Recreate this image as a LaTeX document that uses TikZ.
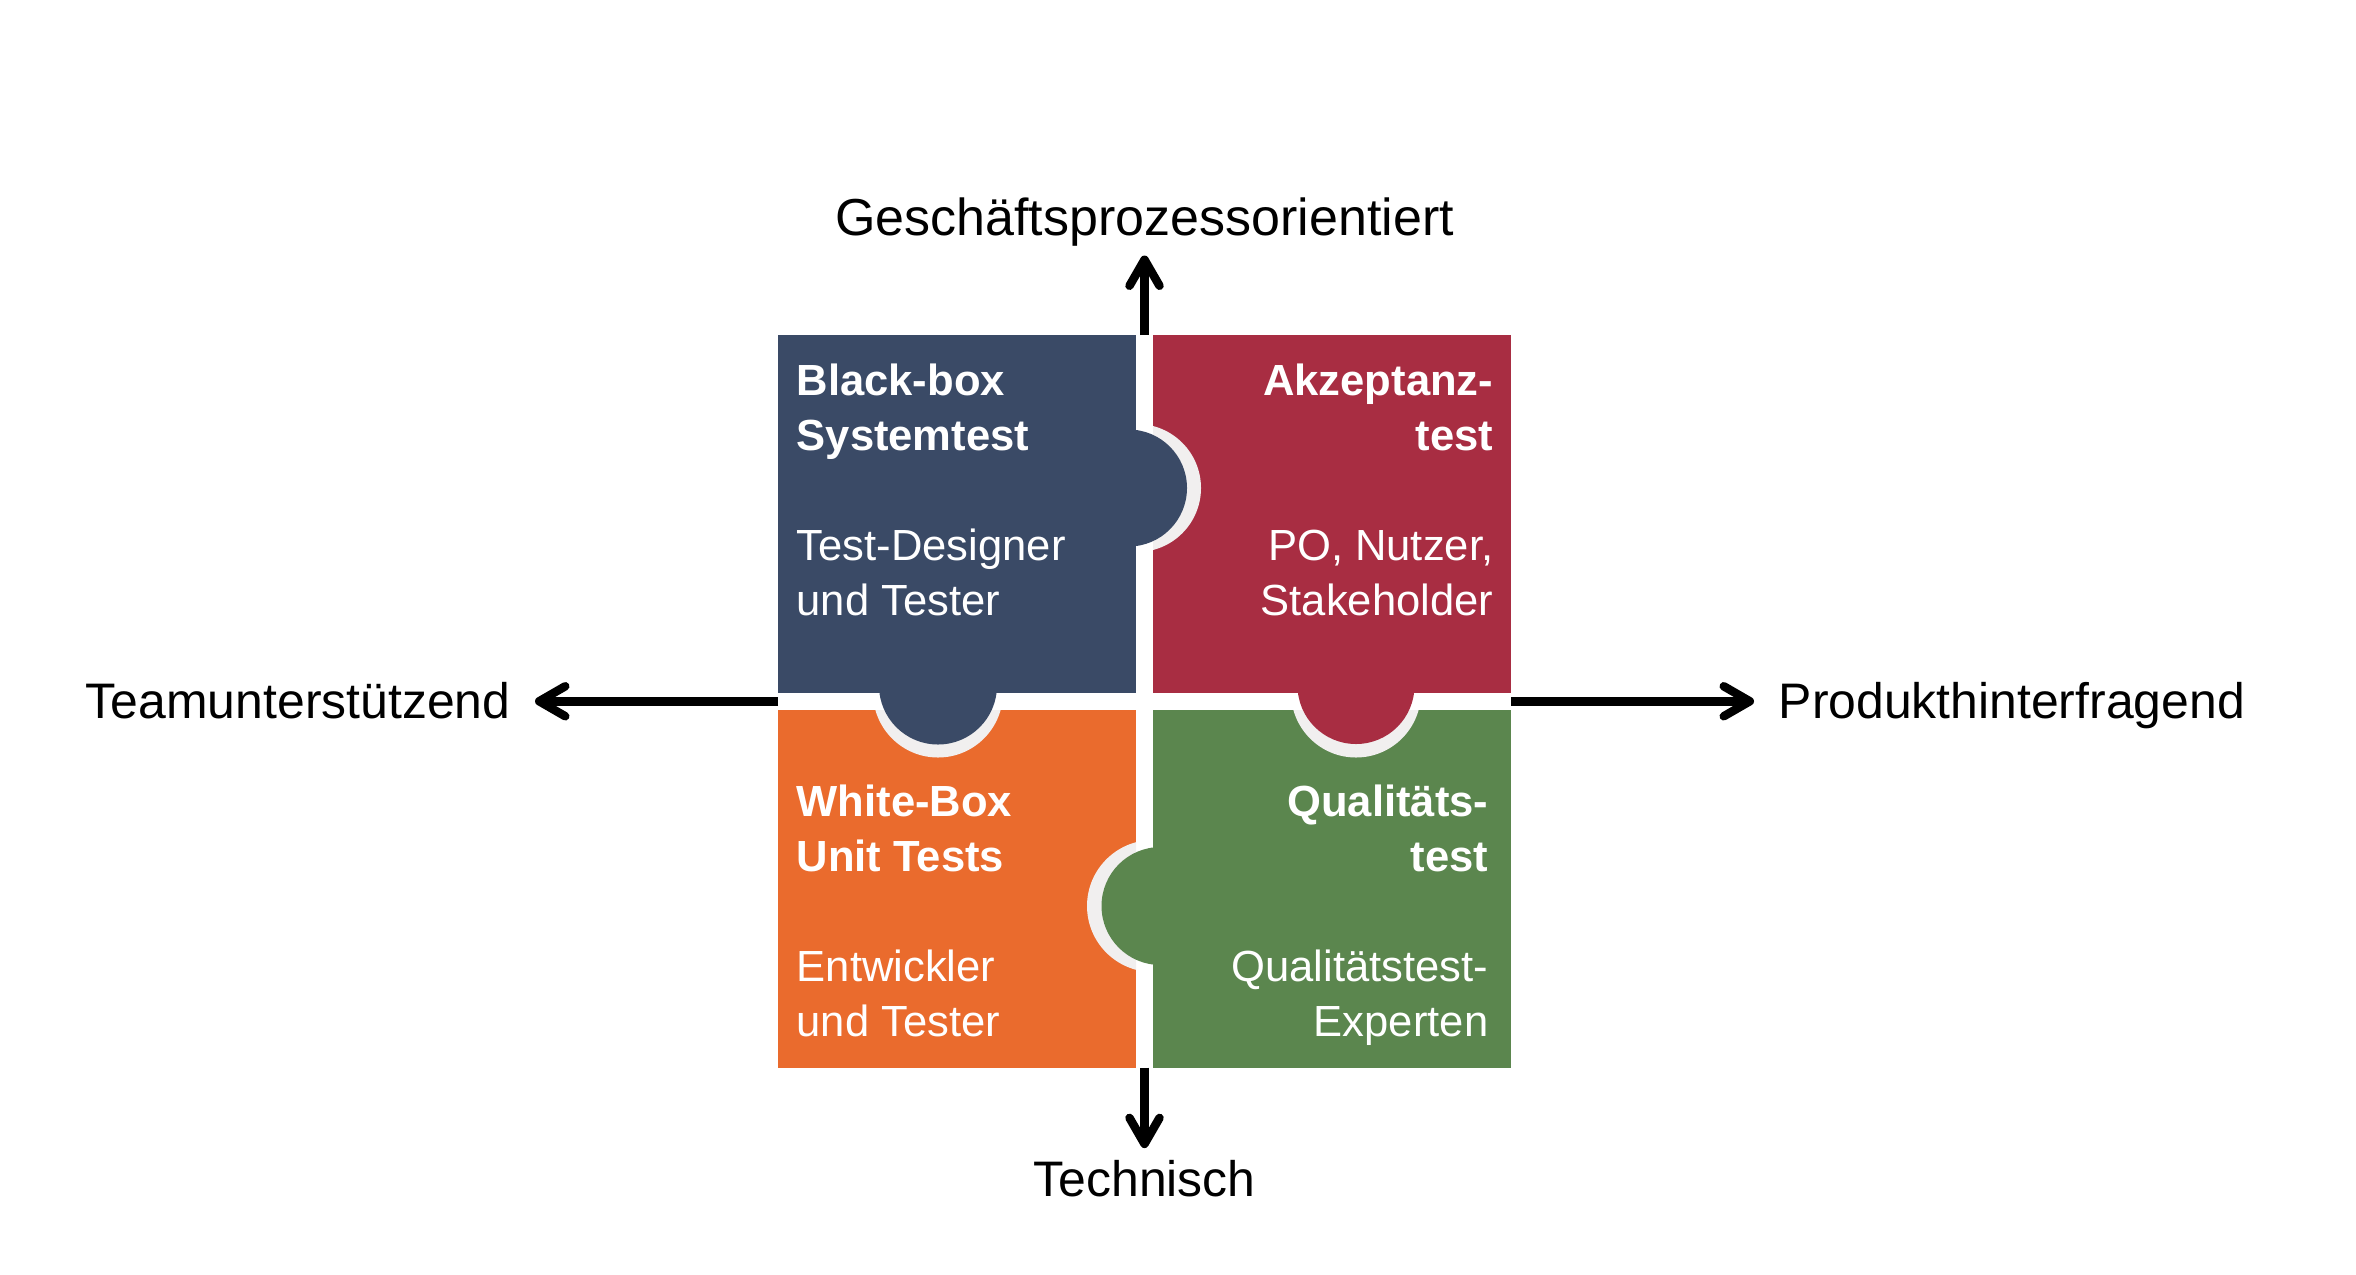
\documentclass[tikz,border=0pt]{standalone}
\usepackage{fontspec}
\setmainfont{Liberation Sans}
\usetikzlibrary{arrows.meta,calc}
\definecolor{boxblue}{HTML}{3A4A66}
\definecolor{boxred}{HTML}{A82D42}
\definecolor{boxorange}{HTML}{EA6B2D}
\definecolor{boxgreen}{HTML}{5B864E}
\definecolor{tabring}{HTML}{F1EFEF}
\tikzset{
  piece/.style={minimum width=35.8mm, minimum height=35.75mm, inner sep=0, outer sep=0},
  ttl/.style={text=white, align=left, inner sep=0, font=\fontsize{12.4}{15.65}\selectfont\bfseries},
  ppl/.style={text=white, align=left, inner sep=0, font=\fontsize{12.4}{15.65}\selectfont},
  axlabel/.style={inner sep=0, font=\fontsize{14.2}{17}\selectfont},
  axis/.style={line width=0.85mm, -{Straight Barb[length=2.6mm, width=3mm, round]}},
}
\begin{document}
\begin{tikzpicture}[x=0.1mm, y=-0.1mm]
    \useasboundingbox (0,0) rectangle (2356,1274);
    % Puzzle pieces
    \node[piece, fill=boxblue] (bb) at (957,513.75) {};
    \node[piece, fill=boxred] (ak) at (1332,513.75) {};
    \node[piece, fill=boxorange] (wb) at (957,888.75) {};
    \node[piece, fill=boxgreen] (qt) at (1332,888.75) {};
    % Tabs: light ring inside the neighbour, then the knob
    \begin{scope}
        \clip (ak.north west) rectangle (ak.south east);
        \fill[tabring] (1137,488) circle[radius=6.4mm];
    \end{scope}
    \begin{scope}
        \clip (wb.north west) rectangle (wb.south east);
        \fill[tabring] (938,692.5) circle[radius=6.5mm];
        \fill[tabring] (1153,906) circle[radius=6.6mm];
    \end{scope}
    \begin{scope}
        \clip (qt.north west) rectangle (qt.south east);
        \fill[tabring] (1356,692.5) circle[radius=6.5mm];
    \end{scope}
    \fill[boxblue] (1128.5,488) circle[radius=5.85mm];
    \fill[boxblue] (938,685.5) circle[radius=5.9mm];
    \fill[boxred] (1356,685.5) circle[radius=5.85mm];
    \fill[boxgreen] (1160.5,906) circle[radius=5.9mm];
    % Texts in the pieces (anchored on the last line)
    \node[ttl, anchor=base west] (bbt) at (796,450) {Black-box\\Systemtest};
    \node[ppl, anchor=base west] (bbp) at (796,615) {Test-Designer\\und Tester};
    \node[ttl, anchor=base east, align=right] (akt) at (1494,450) {Akzeptanz-\\test};
    \node[ppl, anchor=base east, align=right] (akp) at (1494,615) {PO, Nutzer,\\Stakeholder};
    \node[ttl, anchor=base west] (wbt) at (796,871) {White-Box\\Unit Tests};
    \node[ppl, anchor=base west] (wbp) at (796,1036) {Entwickler\\und Tester};
    \node[ttl, anchor=base east, align=right] (qtt) at (1489,871) {Qualitäts-\\test};
    \node[ppl, anchor=base east, align=right] (qtp) at (1489,1036) {Qualitätstest-\\Experten};
    % Axes
    \node[axlabel, anchor=base, font=\fontsize{14.8}{17}\selectfont] (geo) at (1144.5,235) {Geschäftsprozessorientiert};
    \node[axlabel, anchor=base] (tech) at (1144.5,1196) {Technisch};
    \node[axlabel, anchor=base east] (team) at (511,718) {Teamunterstützend};
    \node[axlabel, anchor=base west] (prod) at (1778,718) {Produkthinterfragend};
    \coordinate (mid) at ($(bb.south east)!0.5!(qt.north west)$);
    \draw[axis, shorten >=0.9mm] (mid |- bb.north) -- (mid |- geo.south);
    \draw[axis, shorten >=1.1mm] (mid |- wb.south) -- (mid |- tech.north);
    \draw[axis, shorten >=2.4mm] (mid -| bb.west) -- (mid -| team.east);
    \draw[axis, shorten >=2.4mm] (mid -| ak.east) -- (mid -| prod.west);
\end{tikzpicture}
\end{document}
